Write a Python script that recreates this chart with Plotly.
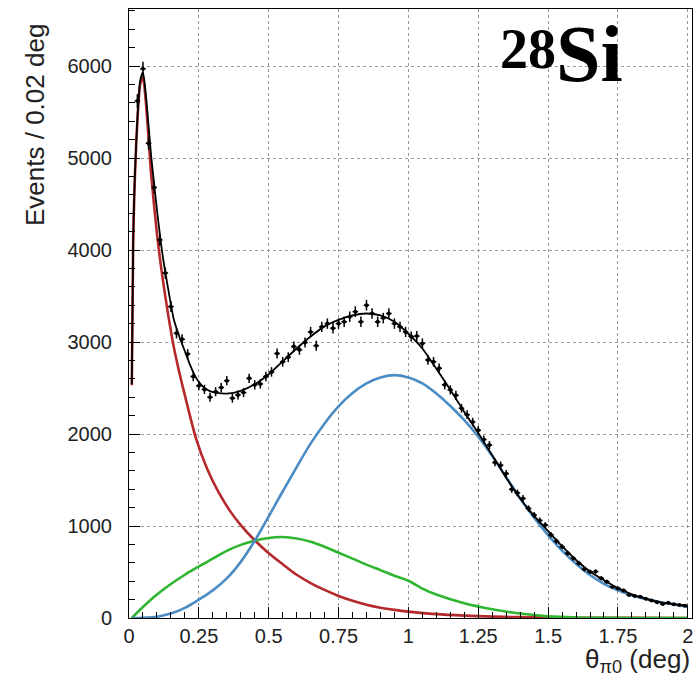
import numpy as np
import plotly.graph_objects as go

# ---------------- data ----------------
bin_centers = [round(0.03 + 0.02 * i, 2) for i in range(99)]
counts = [5620, 5970, 5160, 4680, 4110, 3750, 3385, 3095, 3030, 2870,
          2625, 2525, 2485, 2400, 2460, 2505, 2580, 2390, 2425, 2450,
          2605, 2535, 2545, 2625, 2675, 2875, 2785, 2835, 2950, 2915,
          2995, 3110, 2960, 3165, 3200, 3150, 3200, 3220, 3275, 3330,
          3220, 3400, 3310, 3220, 3260, 3310, 3200, 3165, 3110, 3060,
          3065, 2985, 2805, 2785, 2715, 2535, 2480, 2420, 2280, 2210,
          2130, 2040, 1940, 1880, 1690, 1660, 1570, 1400, 1360, 1300,
          1190, 1120, 1060, 1010, 905, 835, 775, 703, 649, 594,
          530, 503, 505, 431, 395, 340, 322, 300, 250, 239,
          232, 210, 190, 170, 152, 165, 150, 141, 132]
errors = [float(np.sqrt(c)) for c in counts]
half_bin = 0.01

total_x = [0.01, 0.015, 0.02, 0.03, 0.04, 0.05, 0.06, 0.08, 0.1, 0.12, 0.14, 0.16,
           0.18, 0.2, 0.22, 0.24, 0.26, 0.28, 0.3, 0.35, 0.4, 0.45, 0.5, 0.55, 0.6,
           0.65, 0.7, 0.75, 0.8, 0.85, 0.9, 0.95, 1.0, 1.05, 1.1, 1.15, 1.2, 1.25,
           1.3, 1.35, 1.4, 1.45, 1.5, 1.55, 1.6, 1.65, 1.7, 1.75, 1.8, 1.85, 1.9,
           1.95, 2.0]
total_y = [2540, 4110, 4720, 5430, 5840, 5930, 5700, 5000, 4440, 3950, 3580, 3250,
           3060, 2900, 2740, 2610, 2530, 2480, 2455, 2440, 2470, 2540, 2650, 2790,
           2930, 3060, 3170, 3240, 3290, 3310, 3290, 3220, 3090, 2930, 2710, 2480,
           2240, 2010, 1770, 1525, 1300, 1110, 945, 780, 630, 505, 410, 325, 258,
           208, 172, 150, 134]

red_x = [0.01, 0.015, 0.02, 0.03, 0.04, 0.05, 0.06, 0.08, 0.1, 0.12, 0.14, 0.16,
         0.18, 0.2, 0.24, 0.28, 0.32, 0.36, 0.4, 0.45, 0.5, 0.55, 0.6, 0.65, 0.7,
         0.75, 0.8, 0.85, 0.9, 0.95, 1.0, 1.1, 1.2, 1.3, 1.4, 1.5, 1.6, 1.8, 2.0]
red_y = [2530, 4100, 4700, 5400, 5800, 5880, 5620, 4800, 4180, 3700, 3300, 2950,
         2670, 2420, 1950, 1620, 1370, 1170, 1010, 845, 705, 585, 470, 380, 305,
         240, 188, 145, 112, 88, 69, 42, 26, 15, 9, 5, 3, 1, 0.5]

green_x = [0.01, 0.05, 0.1, 0.15, 0.2, 0.25, 0.3, 0.35, 0.4, 0.45, 0.5, 0.55, 0.6,
           0.65, 0.7, 0.75, 0.8, 0.85, 0.9, 0.95, 1.0, 1.05, 1.1, 1.2, 1.3, 1.4,
           1.5, 1.6, 1.7, 1.8, 2.0]
green_y = [0, 120, 255, 370, 470, 560, 645, 730, 795, 840, 870, 880, 865, 830, 775,
           710, 645, 580, 520, 460, 405, 320, 255, 160, 95, 48, 18, 6, 2, 0, 0]

blue_x = [0.01, 0.05, 0.1, 0.15, 0.2, 0.25, 0.3, 0.35, 0.4, 0.45, 0.5, 0.55, 0.6,
          0.65, 0.7, 0.75, 0.8, 0.85, 0.9, 0.95, 1.0, 1.05, 1.1, 1.15, 1.2, 1.25,
          1.3, 1.35, 1.4, 1.45, 1.5, 1.55, 1.6, 1.65, 1.7, 1.75, 1.8, 1.85, 1.9,
          1.95, 2.0]
blue_y = [0, 3, 14, 48, 110, 200, 300, 430, 610, 840, 1105, 1375, 1640, 1895, 2115,
          2300, 2445, 2550, 2615, 2640, 2615, 2550, 2440, 2305, 2150, 1970, 1760,
          1530, 1300, 1090, 900, 732, 590, 467, 372, 300, 246, 206, 173, 147, 124]

x_tick_vals = [0, 0.25, 0.5, 0.75, 1, 1.25, 1.5, 1.75, 2]
x_tick_text = ["0", "0.25", "0.5", "0.75", "1", "1.25", "1.5", "1.75", "2"]
y_tick_vals = [0, 1000, 2000, 3000, 4000, 5000, 6000]
y_tick_text = ["0", "1000", "2000", "3000", "4000", "5000", "6000"]

# ---------------- figure ----------------
W, H = 700, 678
L, R, T, B = 129, 8, 9, 60


def px_x(p):
    return (p - L) / (W - L - R)


def px_y(p):
    return (H - B - p) / (H - T - B)


fig = go.Figure()
fig.add_trace(go.Scatter(x=red_x, y=red_y, mode="lines",
                         line=dict(color="#b5292b", width=2.6, shape="spline", smoothing=0.7)))
fig.add_trace(go.Scatter(x=green_x, y=green_y, mode="lines",
                         line=dict(color="#2fb52f", width=2.6, shape="spline", smoothing=0.9)))
fig.add_trace(go.Scatter(x=blue_x, y=blue_y, mode="lines",
                         line=dict(color="#4a8cc3", width=2.6, shape="spline", smoothing=1.0)))
fig.add_trace(go.Scatter(x=total_x, y=total_y, mode="lines",
                         line=dict(color="black", width=1.8, shape="spline", smoothing=0.6)))
fig.add_trace(go.Scatter(x=bin_centers, y=counts, mode="markers",
                         marker=dict(color="black", size=4),
                         error_y=dict(type="data", array=errors, color="black", thickness=1.5, width=0),
                         error_x=dict(type="constant", value=half_bin, color="black", thickness=1.5, width=0)))

axis_font = dict(family="Liberation Sans, Arial, sans-serif", size=20, color="#222")
fig.update_layout(
    width=W, height=H, margin=dict(l=L, r=R, t=T, b=B),
    paper_bgcolor="white", plot_bgcolor="white", showlegend=False,
    xaxis=dict(range=[0, 2.015], tickvals=x_tick_vals, ticktext=x_tick_text,
               ticks="inside", ticklen=11, tickwidth=1, tickcolor="black",
               minor=dict(dtick=0.05, ticks="inside", ticklen=6, tickcolor="black", showgrid=False),
               showgrid=True, gridcolor="#999", griddash="dot", gridwidth=1,
               showline=True, linecolor="black", linewidth=1, mirror=True,
               tickfont=axis_font, ticklabelstandoff=0, zeroline=False),
    yaxis=dict(range=[0, 6620], tickvals=y_tick_vals, ticktext=y_tick_text,
               ticks="inside", ticklen=11, tickwidth=1, tickcolor="black",
               minor=dict(dtick=200, ticks="inside", ticklen=6, tickcolor="black", showgrid=False),
               showgrid=True, gridcolor="#999", griddash="dot", gridwidth=1,
               showline=True, linecolor="black", linewidth=1, mirror=True,
               tickfont=axis_font, ticklabelstandoff=12, zeroline=False),
)

title_font = dict(family="Liberation Sans, Arial, sans-serif", size=26, color="#222")
fig.add_annotation(text="Events / 0.02 deg", textangle=-90, xref="paper", yref="paper",
                   x=px_x(35), y=px_y(22), xanchor="center", yanchor="top",
                   showarrow=False, font=title_font)
fig.add_annotation(text="θ<sub>π0</sub> (deg)", xref="paper", yref="paper",
                   x=px_x(692), y=px_y(660), xanchor="right", yanchor="middle",
                   showarrow=False, font=title_font)

serif = "Liberation Serif, Times New Roman, serif"
fig.add_annotation(text="<b>Si</b>", xref="paper", yref="paper",
                   x=px_x(589), y=px_y(54), xanchor="center", yanchor="middle",
                   showarrow=False, font=dict(family=serif, size=80, color="black"))
fig.add_annotation(text="<b>28</b>", xref="paper", yref="paper",
                   x=px_x(558), y=px_y(49), xanchor="right", yanchor="middle",
                   showarrow=False, font=dict(family=serif, size=56, color="black"))

fig.write_html("out.html")
